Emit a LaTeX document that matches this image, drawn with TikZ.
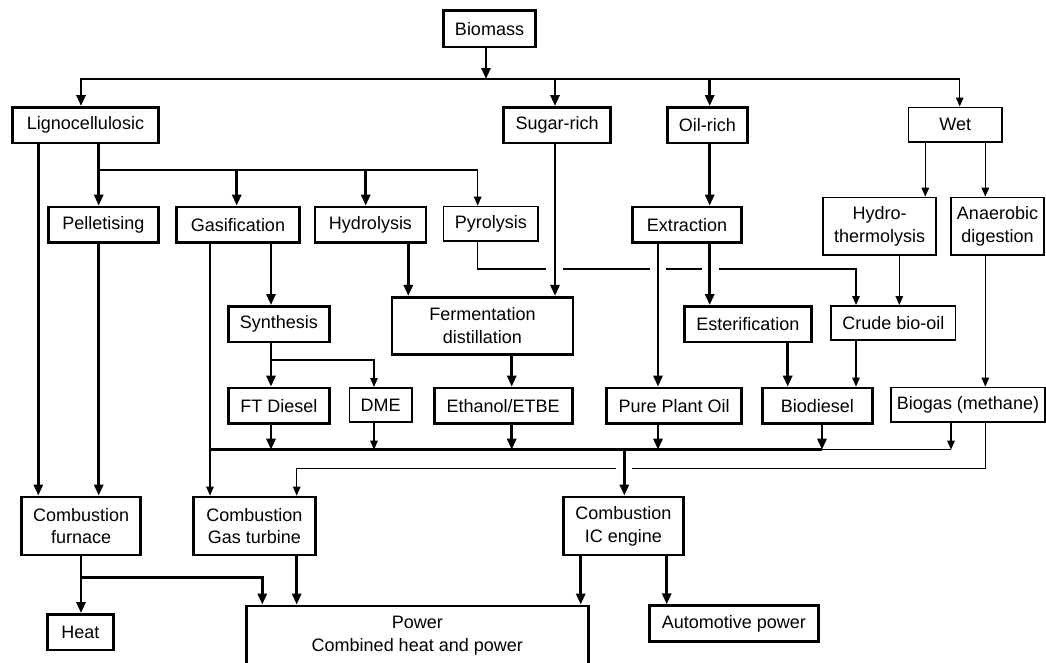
\documentclass[tikz,border=0pt]{standalone}
\usepackage{fontspec}
\setmainfont{Liberation Sans}
\usetikzlibrary{arrows.meta}

\begin{document}
\begin{tikzpicture}[x=1pt, y=-1pt, font=\fontsize{18}{22.7}\selectfont]
			\tikzstyle{Box}		= [rectangle, draw, align=center, inner sep=0pt]
			\tikzstyle{Main}	= [Box, line width=2.8pt, minimum height=35.5]
			\tikzstyle{Side}	= [Box, line width=1.6pt, minimum height=34.4]
			\tikzstyle{Thick}	= [line width=2.8pt]
			\tikzstyle{Thin}	= [line width=1.3pt]
			\tikzstyle{Tip}		= [-{Triangle[length=11pt, width=9pt]}]
			\tikzstyle{Tiny}	= [-{Triangle[length=9pt, width=7.5pt]}]

			\useasboundingbox (0, 0) rectangle (1046, 662);
			\clip (0, 0) rectangle (1046, 662);

			\node (bio) at (489.5, 28.8) [Main, minimum width=92, minimum height=36.5] {Biomass};
			\node (lig) at (85.5, 125.2) [Main, minimum width=146] {Lignocellulosic};
			\node (sug) at (557.2, 125.2) [Main, minimum width=107] {Sugar-rich};
			\node (oil) at (707.3, 125.2) [Main, minimum width=80] {Oil-rich};
			\node (wet) at (955.2, 124.5) [Side, minimum width=93.5] {Wet};

			\node (pel) at (103.3, 224.8) [Main, minimum width=110] {Pelletising};
			\node (gas) at (238, 224.8) [Main, minimum width=123] {Gasification};
			\node (hyd) at (370.5, 224.8) [Main, minimum width=111] {Hydrolysis};
			\node (pyr) at (490.8, 223.7) [Side, minimum width=94.5] {Pyrolysis};
			\node (ext) at (687, 224.8) [Main, minimum width=109] {Extraction};
			\node (hth) at (879.5, 226.2) [Side, minimum width=113.5, minimum height=57.5] {Hydro-\\thermolysis};
			\node (ana) at (997.5, 226.2) [Side, minimum width=93.5, minimum height=57.5] {Anaerobic\\digestion};

			\node (syn) at (278.8, 324.2) [Main, minimum width=101] {Synthesis};
			\node (fer) at (482.5, 325.8) [Main, minimum width=181, minimum height=57] {Fermentation\\distillation};
			\node (est) at (747.8, 324.2) [Main, minimum width=127] {Esterification};
			\node (cbo) at (893.3, 323) [Side, minimum width=124.5] {Crude bio-oil};

			\node (ftd) at (279, 405.8) [Main, minimum width=101] {FT Diesel};
			\node (dme) at (380.7, 405) [Side, minimum width=62.5] {DME};
			\node (eth) at (503.2, 405.8) [Main, minimum width=138] {Ethanol/ETBE};
			\node (ppo) at (674.2, 405.8) [Main, minimum width=135] {Pure Plant Oil};
			\node (bdi) at (817.3, 405.8) [Main, minimum width=110] {Biodiesel};
			\node (bgs) at (968, 404.7) [Side, minimum width=153.5] {Biogas (methane)};

			\node (cfu) at (81.2, 526) [Main, minimum width=119, minimum height=58] {Combustion\\furnace};
			\node (cgt) at (254.3, 526) [Main, minimum width=122, minimum height=58] {Combustion\\Gas turbine};
			\node (cic) at (623.3, 526) [Main, minimum width=120, minimum height=58] {Combustion\\IC engine};

			\node (heat) at (80.3, 632.2) [Main, minimum width=66] {Heat};
			\node (pow) at (417.3, 636) [Main, minimum width=342, minimum height=60] {Power\\Combined heat and power};
			\node (auto) at (733.8, 623.5) [Main, minimum width=169] {Automotive power};

			\coordinate (rowA) at (486, 79);
			\coordinate (rowB) at (98.7, 170);
			\coordinate (rowD) at (271, 360);
			\coordinate (bus) at (210, 449.7);
			\coordinate (rowF) at (81, 577.7);
			\coordinate (pa) at (546.3, 269);
			\coordinate (pb) at (563, 269);
			\coordinate (pc) at (649.7, 269);
			\coordinate (pd) at (666.3, 269);
			\coordinate (pe) at (702, 269);
			\coordinate (pf) at (718.7, 269);
			\coordinate (ga) at (632, 468.3);
			\coordinate (gb) at (616, 468.3);

			\draw [Thick, Tip] (486,0 |- bio.south) -- (rowA);
			\draw [Thick, Tip] (rowA) -| (81,0 |- lig.north);
			\draw [Thick, Tip] (rowA) -| (555,0 |- sug.north);
			\draw [Thick, Tip] (rowA) -| (709.7,0 |- oil.north);
			\draw [Thin, Tiny] (709.7,0 |- rowA) -| (959.7,0 |- wet.north);

			\draw [Thick, Tip] (38.3,0 |- lig.south) -- (38.3,0 |- cfu.north);
			\draw [Thick, Tip] (98.7,0 |- lig.south) -- (98.7,0 |- pel.north);
			\draw [Thick, Tip] (rowB) -| (236.7,0 |- gas.north);
			\draw [Thick, Tip] (rowB) -| (365.7,0 |- hyd.north);
			\draw [Thin, Tiny] (365.7,0 |- rowB) -| (477.7,0 |- pyr.north);
			\draw [Thin, Tiny] (925.3,0 |- wet.south) -- (925.3,0 |- hth.north);
			\draw [Thin, Tiny] (985.3,0 |- wet.south) -- (985.3,0 |- ana.north);

			\draw [Thick, Tip] (98.7,0 |- pel.south) -- (98.7,0 |- cfu.north);
			\draw [Thick, Tip] (271,0 |- gas.south) -- (271,0 |- syn.north);
			\draw [Thick, Tip] (408.3,0 |- hyd.south) -- (408.3,0 |- fer.north);
			\draw [Thick, Tip] (555,0 |- sug.south) -- (555,0 |- fer.north);
			\draw [Thick, Tip] (709.7,0 |- oil.south) -- (709.7,0 |- ext.north);
			\draw [Thick, Tip] (658,0 |- ext.south) -- (658,0 |- ppo.north);
			\draw [Thick, Tip] (709.7,0 |- ext.south) -- (709.7,0 |- est.north);
			\draw [Thin, Tiny] (899.3,0 |- hth.south) -- (899.3,0 |- cbo.north);
			\draw [Thin, Tiny] (985.3,0 |- ana.south) -- (985.3,0 |- bgs.north);

			\draw [Thin] (477.7,0 |- pyr.south) |- (pa);
			\draw [Thin] (pb) -- (pc);
			\draw [Thin] (pd) -- (pe);
			\draw [Thin, Tiny] (pf) -| (856,0 |- cbo.north);

			\draw [Thick, Tip] (271,0 |- syn.south) -- (271,0 |- ftd.north);
			\draw [Thin, Tiny] (rowD) -| (374,0 |- dme.north);
			\draw [Thick, Tip] (511.7,0 |- fer.south) -- (511.7,0 |- eth.north);
			\draw [Thick, Tip] (787.7,0 |- est.south) -- (787.7,0 |- bdi.north);
			\draw [Thin, Tiny] (856,0 |- cbo.south) -- (856,0 |- bdi.north);

			\draw [Thick] (210,0 |- gas.south) |- (822,0 |- bus);
			\draw [Thin] (822,0 |- bus) -- (951,0 |- bus);
			\draw [Thick, Tip] (271,0 |- ftd.south) -- (271,0 |- bus);
			\draw [Thin, Tiny] (374,0 |- dme.south) -- (374,0 |- bus);
			\draw [Thick, Tip] (511.7,0 |- eth.south) -- (511.7,0 |- bus);
			\draw [Thick, Tip] (658,0 |- ppo.south) -- (658,0 |- bus);
			\draw [Thick, Tip] (822,0 |- bdi.south) -- (822,0 |- bus);
			\draw [Thin, Tiny] (951,0 |- bgs.south) -- (951,0 |- bus);

			\draw [Thin, Tiny] (bus) -- (210,0 |- cgt.north);
			\draw [Thick, Tip] (624.3,0 |- bus) -- (624.3,0 |- cic.north);
			\draw [Thin] (985.3,0 |- bgs.south) |- (ga);
			\draw [Thin, Tiny] (gb) -| (296.7,0 |- cgt.north);

			\draw [Thick, Tip] (81,0 |- cfu.south) -- (81,0 |- heat.north);
			\draw [Thick, Tip] (rowF) -| (262.3,0 |- pow.north);
			\draw [Thick, Tip] (296.7,0 |- cgt.south) -- (296.7,0 |- pow.north);
			\draw [Thick, Tip] (580.7,0 |- cic.south) -- (580.7,0 |- pow.north);
			\draw [Thick, Tip] (666.7,0 |- cic.south) -- (666.7,0 |- auto.north);
		\end{tikzpicture}
\end{document}
